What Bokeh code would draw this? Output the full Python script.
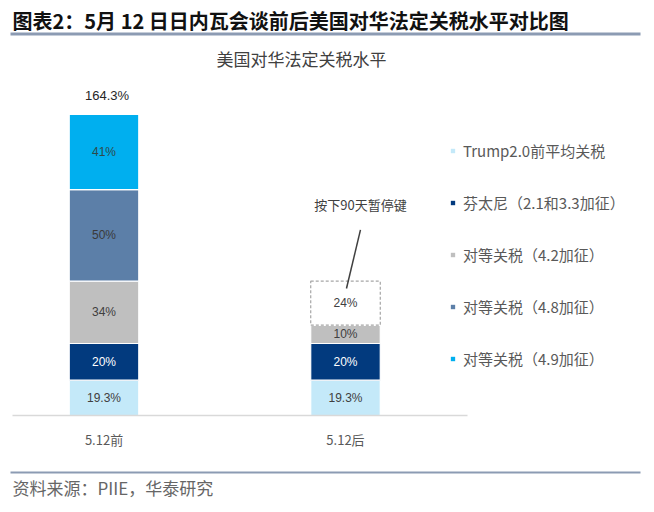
from bokeh.plotting import figure
from bokeh.layouts import column
from bokeh.models import ColumnDataSource, Label, BoxAnnotation, FixedTicker
from bokeh.core.properties import value
from bokeh.embed import file_html
from bokeh.resources import INLINE

# ---------------- data ----------------
categories = ["5.12前", "5.12后"]
series_names = ["Trump2.0前平均关税", "芬太尼（2.1和3.3加征）", "对等关税（4.2加征）",
                "对等关税（4.8加征）", "对等关税（4.9加征）"]
trump = [19.3, 19.3]
fentanyl = [20.0, 20.0]
reciprocal_42 = [34.0, 10.0]
reciprocal_48 = [50.0, 0.0]
reciprocal_49 = [41.0, 0.0]
paused_90d = [0.0, 24.0]
annotation_text = "按下90天暂停键"
title_text = "图表2：5月 12 日日内瓦会谈前后美国对华法定关税水平对比图"
subtitle_text = "美国对华法定关税水平"
source_text = "资料来源：PIIE，华泰研究"

colors = ["#C4E9F9", "#023A7E", "#BFBFBF", "#5C7FA8", "#00AFEF"]
label_colors = ["#404040", "#FFFFFF", "#404040", "#3A3A3A", "#2E4A4A"]
rule_color = "#8C9BB3"

CJK = "Noto Sans CJK SC"
NUM = "Liberation Sans Narrow, Liberation Sans"

xs = list(range(len(categories)))
series = [trump, fentanyl, reciprocal_42, reciprocal_48, reciprocal_49]
keys = ["s%d" % i for i in range(len(series))]
data = {"x": xs}
for k, s in zip(keys, series):
    data[k] = s
src = ColumnDataSource(data)

W = 646
H_MAIN = 470
H_FOOT = 504 - H_MAIN
BAR_W = 0.288

p = figure(width=W, height=H_MAIN, x_range=(-0.4286, 2.2464), y_range=(0, 226.5),
           output_backend="svg", toolbar_location=None, y_axis_location=None,
           min_border_left=0, min_border_right=0, min_border_top=0, min_border_bottom=55,
           background_fill_color="white", border_fill_color="white")
p.outline_line_color = None
p.grid.visible = False

p.vbar_stack(keys, x="x", width=BAR_W, source=src, fill_color=colors,
             line_color="white", line_width=1.2, legend_label=series_names)

# paused (dashed) segment on the right bar
base = [sum(s[i] for s in series) for i in xs]
px, pb, pt = [], [], []
for i in xs:
    if paused_90d[i] > 0:
        px.append(i); pb.append(base[i]); pt.append(base[i] + paused_90d[i])
p.vbar(x=px, bottom=pb, top=pt, width=BAR_W, fill_color="white",
       line_color="#A6A6A6", line_dash="3 2", line_width=1.2)

# segment labels
tx, ty, tt, tc = [], [], [], []
for i in xs:
    cum = 0.0
    for j, s in enumerate(series):
        v = s[i]
        if v > 0:
            tx.append(i); ty.append(cum + v / 2); tt.append(f"{v:g}%"); tc.append(label_colors[j])
        cum += v
    if paused_90d[i] > 0:
        tx.append(i); ty.append(cum + paused_90d[i] / 2); tt.append(f"{paused_90d[i]:g}%"); tc.append("#404040")
p.text(x=tx, y=ty, text=tt, text_color=tc, text_align="center", text_baseline="middle",
       text_font=value(NUM), text_font_size="12px")

# total label on top of the first bar
tot0 = base[0]
p.text(x=[0], y=[tot0], text=[f"{tot0:.1f}%"], text_color="#262626", text_align="center",
       text_baseline="bottom", y_offset=-11, x_offset=3, text_font=value(NUM), text_font_size="13px")

# callout for the paused segment
top_r = base[1] + paused_90d[1]
p.segment(x0=[1.062], y0=[top_r + 28], x1=[1.004], y1=[top_r - 4], line_color="#404040", line_width=1.5)
p.text(x=[1.062], y=[top_r + 42], text=[annotation_text], text_color="#404040", text_align="center",
       text_baseline="middle", text_font=value(CJK), text_font_size="13px")

# x axis
ax = p.xaxis[0]
ax.ticker = FixedTicker(ticks=xs)
ax.major_label_overrides = {i: c for i, c in zip(xs, categories)}
ax.bounds = (-0.379, 1.505)
ax.axis_line_color = "#D9D9D9"
ax.axis_line_width = 1.5
ax.major_tick_line_color = None
ax.minor_tick_line_color = None
ax.major_label_standoff = 8
ax.major_label_text_font = CJK
ax.major_label_text_font_size = "13px"
ax.major_label_text_color = "#595959"

# legend
lg = p.legend[0]
lg.location = (449, 46)
lg.border_line_color = None
lg.background_fill_alpha = 0
lg.glyph_width = 7
lg.glyph_height = 7
lg.label_height = 20
lg.spacing = 31
lg.label_standoff = 7
lg.padding = 10
lg.margin = 0
lg.label_text_font = CJK
lg.label_text_font_size = "15px"
lg.label_text_color = "#595959"

# title, rule, subtitle (screen units relative to the frame)
p.add_layout(Label(x=12, y=395, x_units="screen", y_units="screen", text=title_text,
                   text_font=CJK, text_font_size="20px", text_font_style="bold",
                   text_color="#111111", text_baseline="middle"))
p.add_layout(BoxAnnotation(left=10, right=640, bottom=380, top=383, left_units="screen",
                           right_units="screen", bottom_units="screen", top_units="screen",
                           fill_color=rule_color, fill_alpha=1, line_color=None))
p.add_layout(Label(x=301, y=357, x_units="screen", y_units="screen", text=subtitle_text,
                   text_font=CJK, text_font_size="17px", text_color="#404040",
                   text_align="center", text_baseline="middle"))

# footer figure
f = figure(width=W, height=H_FOOT, x_range=(0, W), y_range=(0, H_FOOT),
           output_backend="svg", toolbar_location=None, x_axis_location=None, y_axis_location=None,
           min_border_left=0, min_border_right=0, min_border_top=0, min_border_bottom=0,
           background_fill_color="white", border_fill_color="white")
f.outline_line_color = None
f.grid.visible = False
f.add_layout(BoxAnnotation(left=10, right=640, bottom=H_FOOT - 3, top=H_FOOT - 1, left_units="screen",
                           right_units="screen", bottom_units="screen", top_units="screen",
                           fill_color=rule_color, fill_alpha=1, line_color=None))
f.add_layout(Label(x=12, y=H_FOOT - 17, x_units="screen", y_units="screen", text=source_text,
                   text_font=CJK, text_font_size="17px", text_color="#666666",
                   text_baseline="middle"))

open("out.html", "w").write(file_html(column(p, f, spacing=0), INLINE))
